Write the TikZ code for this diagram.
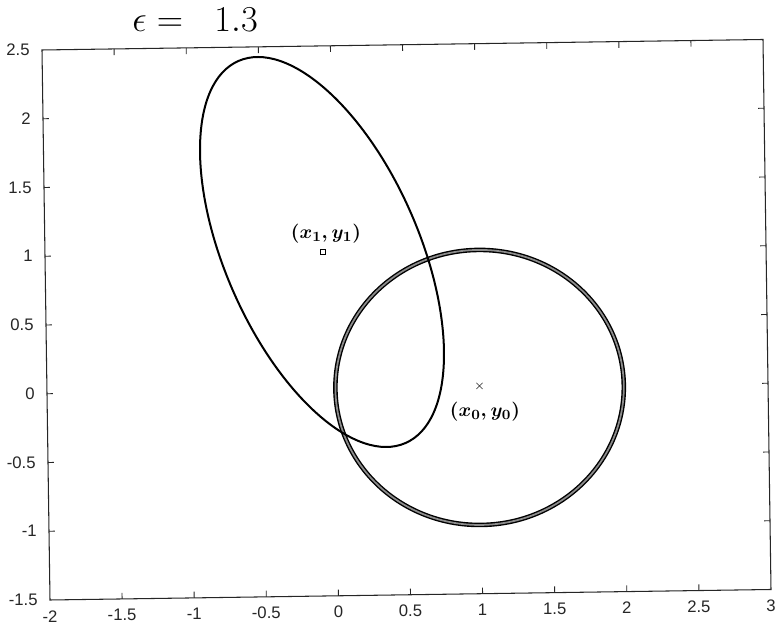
\documentclass[tikz,border=0pt]{standalone}
\usepackage{fontspec}
\newfontfamily\tickfont{Liberation Sans}
\begin{document}
\begin{tikzpicture}
\tikzset{
  frame/.style={line width=0.6pt, black!85},
  tickmark/.style={line width=0.5pt, black!85},
  ticklabel/.style={font=\tickfont\fontsize{9.5}{11}\selectfont, inner sep=0pt, text=black!85},
  curve/.style={line width=0.04cm, black},
  ring/.style={line width=0.028cm, black, double=black!45, double distance=0.035cm},
  hand/.style={font=\boldmath\fontsize{11}{13}\selectfont, inner sep=0pt},
}
\useasboundingbox (0,0) rectangle (15.52,12.5);
\fill[white] (0,0) rectangle (15.52,12.5);

% data frame (slightly rotated, as scanned)
\begin{scope}[x={(2.884cm,0.042cm)}, y={(-0.04cm,2.75cm)}, shift={(6.708cm,4.709cm)}]
  \coordinate (bl) at (-2,-1.5);
  \coordinate (br) at (3,-1.5);
  \coordinate (tr) at (3,2.5);
  \coordinate (tl) at (-2,2.5);
  \draw[frame] (bl) -- (br) -- (tr) -- (tl) -- cycle;
  \foreach \t in {-1.5,-1,-0.5,0,0.5,1,1.5,2,2.5} {
    \draw[tickmark] (\t,-1.5) -- ++(0,0.045);
    \draw[tickmark] (\t,2.5) -- ++(0,-0.045);
  }
  \foreach \t in {-1,-0.5,0,0.5,1,1.5,2} {
    \draw[tickmark] (-2,\t) -- ++(0.04,0);
    \draw[tickmark] (3,\t) -- ++(-0.04,0);
  }
  \foreach \t/\l [count=\i] in {-2/-2,-1.5/-1.5,-1/-1,-0.5/-0.5,0/0,0.5/0.5,1/1,1.5/1.5,2/2,2.5/2.5,3/3} {
    \node[ticklabel, anchor=north, yshift=-0.2cm] (xl\i) at (\t,-1.5) {\l};
  }
  \foreach \t/\l [count=\i] in {-1.5/-1.5,-1/-1,-0.5/-0.5,0/0,0.5/0.5,1/1,1.5/1.5,2/2,2.5/2.5} {
    \node[ticklabel, anchor=east, xshift=-0.24cm] (yl\i) at (-2,\t) {\l};
  }
  % circle
  \draw[ring] (1,0) circle [radius=1];
  \node[inner sep=0pt, font=\fontsize{7}{7}\selectfont] (cen0) at (1,0.01) {$\times$};
\end{scope}

% ellipse
\draw[curve, rotate around={113.6:(6.44,7.46)}] (6.44,7.46) ellipse [x radius=4.17, y radius=1.942];
\node[draw, minimum size=0.11cm, inner sep=0pt, line width=0.35pt] (cen1) at (6.46,7.46) {};

% handwritten labels
\node[hand] (lab1) at (6.52,7.82) {$(x_1,y_1)$};
\node[hand] (lab0) at (9.7,4.26) {$(x_0,y_0)$};
\node[font=\fontsize{20}{24}\selectfont, inner sep=0pt] (title) at (3.9,12.1) {$\epsilon=\ \ 1.3$};
\end{tikzpicture}
\end{document}
